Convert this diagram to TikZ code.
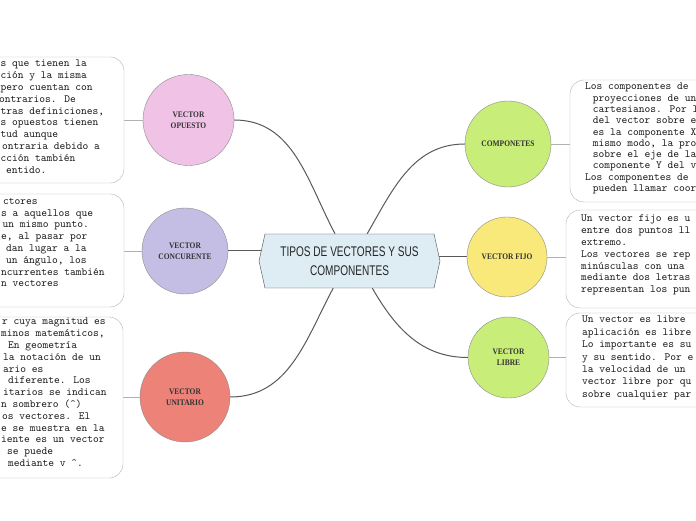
\documentclass[tikz,border=0pt]{standalone}
\usepackage{fontspec}
\usepackage{xcolor}
\usetikzlibrary{shapes.symbols,backgrounds}

\newfontfamily\temafont[FakeStretch=0.88]{Liberation Serif}
\newfontfamily\titulofont[FakeStretch=0.72]{Liberation Sans}
\newcommand{\desp}[1]{\hspace*{#1pt}}

\definecolor{rosa}{HTML}{F0C3E6}
\definecolor{lila}{HTML}{C4BEE4}
\definecolor{salmon}{HTML}{EC8278}
\definecolor{verde}{HTML}{C8ED78}
\definecolor{amarillo}{HTML}{F8E97A}
\definecolor{celeste}{HTML}{DEECF3}

\tikzset{
  tema/.style={circle,draw=black!45,fill=#1,inner sep=0pt,align=center,
    font=\temafont\bfseries\fontsize{8.5}{11}\selectfont,text=black!80},
  nota/.style={draw=black!30,fill=white,rounded corners=14pt,inner sep=0pt},
  texto/.style={anchor=north west,inner sep=0pt,align=left,text=black!90,
    font=\ttfamily\fontsize{10.95}{#1}\selectfont},
  texto/.default=11.8,
  rama/.style={draw=black!65,line width=1pt},
  enlace/.style={draw=black!30,line width=0.8pt}
}

\begin{document}
\begin{tikzpicture}[x=1pt,y=1pt]
\useasboundingbox (0,0) rectangle (696,520);
\clip (0,0) rectangle (696,520);

\node[signal,signal to=west and east,signal pointer angle=155,draw=black!70,fill=celeste,
  minimum width=181pt,minimum height=54pt,inner sep=0pt,align=center,text=black!85,
  font=\titulofont\fontsize{14}{19}\selectfont] (titulo) at (349.5,259)
  {TIPOS DE VECTORES Y SUS\\COMPONENTES};

\node[tema=rosa,minimum size=91pt] (opuesto) at (188.5,400) {VECTOR\\OPUESTO};
\node[tema=lila,minimum size=86pt] (concurente) at (185,269) {VECTOR\\CONCURENTE};
\node[tema=salmon,minimum size=90pt] (unitario) at (185,123) {VECTOR\\UNITARIO};
\node[tema=verde,minimum size=86pt] (componetes) at (508,376) {COMPONETES};
\node[tema=amarillo,minimum size=80pt] (fijo) at (507,263) {VECTOR FIJO};
\node[tema=verde,minimum size=81pt] (libre) at (508.5,162.5) {VECTOR\\LIBRE};

\node[nota,minimum width=204pt,minimum height=126pt] (opuestobox) at (22,400) {};
\node[nota,minimum width=204pt,minimum height=113pt] (concurentebox) at (22,269.5) {};
\node[nota,minimum width=203pt,minimum height=161pt] (unitariobox) at (21.5,122.5) {};
\node[nota,minimum width=210pt,minimum height=122pt] (componetesbox) at (675,379) {};
\node[nota,minimum width=214pt,minimum height=98pt] (fijobox) at (673,261) {};
\node[nota,minimum width=214pt,minimum height=94pt] (librebox) at (673,160) {};

\node[texto] (opuestotext) at (0.5,460) {s que tienen la\\
ción y la misma\\
pero cuentan con\\
\desp{-1.5}ontrarios. De\\
tras definiciones,\\
s opuestos tienen\\
tud aunque\\
\desp{1.5}ontraria debido a\\
cción también\\
\desp{5.5}entido.};

\node[texto] (concurentetext) at (0,322) {\desp{3}ctores\\
\desp{1}s a aquellos que\\
\desp{2.5}un mismo punto.\\
\desp{1}e, al pasar por\\
\desp{6}dan lugar a la\\
\desp{6}un ángulo, los\\
\desp{1}ncurrentes también\\
\desp{1}n vectores};

\node[texto] (unitariotext) at (0,202) {\desp{2}r cuya magnitud es\\
\desp{1}minos matemáticos,\\
\desp{8}En geometría\\
\desp{3}la notación de un\\
\desp{3}ario es\\
\desp{8}diferente. Los\\
\desp{3}itarios se indican\\
\desp{1}n sombrero (\textasciicircum)\\
\desp{2}os vectores. El\\
\desp{1}e se muestra en la\\
\desp{1}iente es un vector\\
\desp{7}se puede\\
\desp{8}mediante v \textasciicircum.};

\node[texto=11.3] (componetestext) at (585,437) {Los componentes de\\
\desp{7.7}proyecciones de un\\
\desp{7.7}cartesianos. Por lo\\
\desp{7.7}del vector sobre el\\
\desp{7.7}es la componente X\\
\desp{7.7}mismo modo, la proy\\
\desp{7.7}sobre el eje de las\\
\desp{7.7}componente Y del ve\\
Los componentes de\\
\desp{7.7}pueden llamar coord};

\node[texto] (fijotext) at (581,305) {Un vector fijo es u\\
entre dos puntos ll\\
extremo.\\
Los vectores se rep\\
minúsculas con una\\
mediante dos letras\\
representan los pun};

\node[texto=12.4] (libretext) at (582,204) {Un vector es libre\\
aplicación es libre\\
Lo importante es su\\
y su sentido. Por e\\
la velocidad de un\\
vector libre por qu\\
sobre cualquier par};

\begin{scope}[on background layer]
\fill[white] (0,0) rectangle (696,520);
\draw[rama] (opuesto.east) to[out=0,in=118] (titulo.118);
\draw[rama] (concurente) -- (concurente -| titulo.center);
\draw[rama] (unitario.east) to[out=0,in=-118] (titulo.239);
\draw[rama] (componetes.west) to[out=180,in=60] (titulo.57);
\draw[rama] (fijo) -- (fijo -| titulo.center);
\draw[rama] (libre.west) to[out=180,in=-60] (titulo.310);

\draw[enlace] (opuesto) -- (opuesto -| opuestobox.center);
\draw[enlace] (concurente) -- (concurente -| concurentebox.center);
\draw[enlace] (unitario) -- (unitario -| unitariobox.center);
\draw[enlace] (componetes) -- (componetes -| componetesbox.center);
\draw[enlace] (fijo) -- (fijo -| fijobox.center);
\draw[enlace] (libre) -- (libre -| librebox.center);
\end{scope}
\end{tikzpicture}
\end{document}
